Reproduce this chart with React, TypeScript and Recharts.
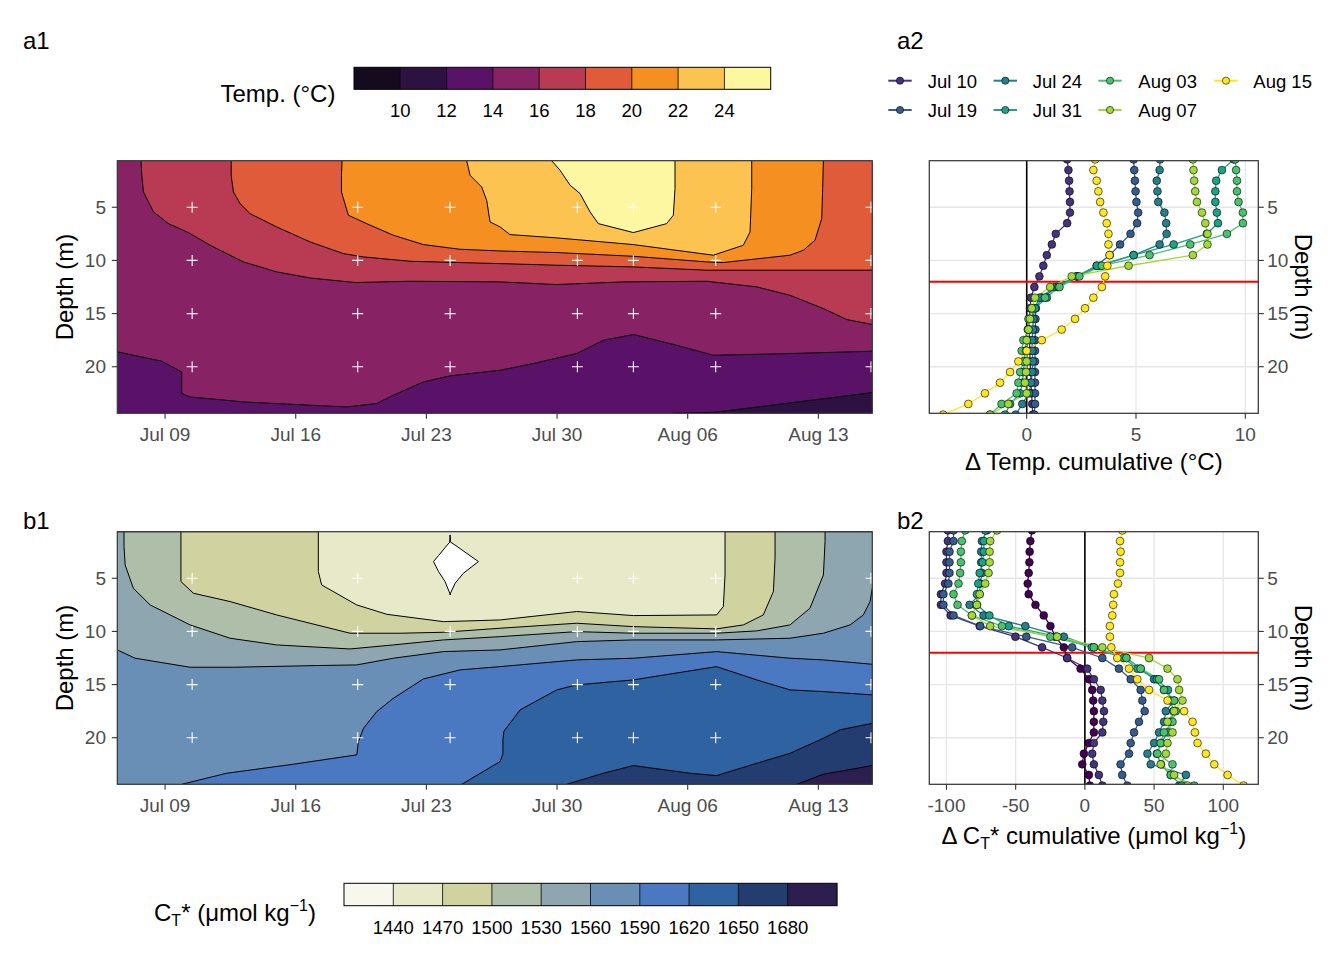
import React from 'react';
import { ComposedChart, Area, Scatter, XAxis, YAxis, CartesianGrid, ReferenceLine } from 'recharts';

const FONT = '"Liberation Sans", Arial, Helvetica, sans-serif';

// ---------- axes / shared ----------
const DEPTH_MIN = 0.62;
const DEPTH_MAX = 24.38;
const DAY_MIN = 6.44;
const DAY_MAX = 46.89;
const DATE_TICKS = [9, 16, 23, 30, 37, 44];
const DATE_LABELS = ['Jul 09', 'Jul 16', 'Jul 23', 'Jul 30', 'Aug 06', 'Aug 13'];
const DEPTH_TICKS = [5, 10, 15, 20];
const SAMPLE_DAYS = [10.45, 19.32, 24.27, 31.09, 34.09, 38.5, 46.82];
const SAMPLE_DEPTHS = [5, 10, 15, 20];
const MIXED_LAYER_DEPTH = 12;

// ---------- legends ----------
const TEMP_BREAKS = ['10', '12', '14', '16', '18', '20', '22', '24'];
const TEMP_FILLS = ['#150a1e', '#2d1142', '#5a1168', '#872265', '#b83a53', '#e05b3a', '#f58f22', '#fdc350', '#fcf7a0'];
const CT_BREAKS = ['1440', '1470', '1500', '1530', '1560', '1590', '1620', '1650', '1680'];
const CT_FILLS = ['#f7f7ee', '#e8e9c9', '#d0d2a0', '#afbea8', '#8ea6b0', '#6a8fb6', '#4a78c1', '#2e62a0', '#243d70', '#2c1f50'];

// ---------- a1 temperature contour boundaries [day, depth] ----------
const T = DEPTH_MIN;
const B = DEPTH_MAX;
const tempC12 = [[36.2, B], [38.5, 24.28], [46.89, 22.43]];
const tempC14 = [[6.44, 18.6], [8.82, 19.48], [9.89, 20.49], [9.89, 22.52], [10.34, 22.84], [13.2, 23.31], [16.77, 23.62], [18.73, 23.78], [20.34, 23.46], [21.23, 22.68], [22.84, 21.43], [24.27, 20.86], [26.95, 20.33], [28.73, 19.7], [31.05, 18.76], [32.48, 17.51], [34.09, 16.97], [36.41, 17.98], [38.37, 18.92], [42.48, 18.76], [46.89, 18.54]];
const tempC16 = [[7.71, T], [7.75, 1.99], [7.84, 3.56], [8.38, 5.44], [9.18, 6.54], [10.25, 7.38], [11.41, 8.57], [13.2, 10.14], [14.98, 11.08], [16.77, 11.65], [19.18, 12.08], [22.13, 11.96], [26.95, 12.02], [29.98, 12.27], [33.55, 12.02], [38.02, 11.96], [40.7, 12.49], [42.48, 13.28], [44.27, 14.53], [45.52, 15.56], [46.89, 16.03]];
const tempC18 = [[12.54, T], [12.54, 1.99], [12.66, 3.56], [13.02, 4.66], [13.55, 5.6], [14.98, 6.85], [16.77, 8.26], [18.55, 9.36], [19.63, 9.67], [22.13, 10.08], [26.95, 10.3], [29.98, 10.45], [34.09, 10.61], [38.02, 10.92], [46.89, 10.92]];
const tempC20 = [[18.48, T], [18.45, 1.99], [18.45, 3.56], [18.82, 5.75], [19.8, 6.54], [21.23, 7.63], [22.84, 8.51], [24.8, 8.95], [26.95, 9.11], [29.98, 9.26], [34.09, 9.61], [38.02, 10.14], [38.91, 10.2], [42.48, 9.51], [43.2, 9.04], [43.82, 8.1], [44.18, 6.07], [44.23, 3.24], [44.27, T]];
const tempC22 = [[25.16, T], [25.34, 1.99], [25.96, 3.09], [26.23, 4.34], [26.41, 6.38], [26.95, 6.85], [27.48, 7.57], [29.98, 7.88], [34.09, 8.51], [38.37, 9.51], [39.98, 8.57], [40.34, 7.32], [40.43, 3.24], [40.43, T]];
const tempC24 = [[29.71, T], [30.16, 1.52], [30.7, 2.93], [31.23, 3.71], [31.77, 5.44], [32.21, 6.54], [34.09, 7.38], [35.87, 6.54], [36.23, 5.75], [36.32, 3.24], [36.32, T]];

// ---------- b1 CT* contour boundaries [day, depth] ----------
const ctC1470 = [[6.44, T], [17.21, T], [17.21, 4.37], [17.39, 5.63], [19.27, 7.51], [20.88, 8.39], [23.91, 9.08], [26.95, 8.92], [31.05, 8.13], [34.09, 8.51], [38.55, 8.45], [38.91, 7.66], [39.0, 4.69], [39.0, 1.5], [39.0, T], [46.89, T]];
const ctC1500 = [[6.44, T], [9.85, T], [9.85, 5.31], [10.52, 6.41], [12.48, 7.19], [14.98, 8.45], [18.91, 10.17], [21.59, 10.17], [23.91, 10.08], [26.95, 9.7], [31.05, 9.23], [34.09, 9.55], [38.55, 9.76], [39.98, 9.39], [41.05, 8.45], [41.59, 6.25], [41.68, 3.12], [41.68, T], [46.89, T]];
const ctC1530 = [[6.44, T], [6.8, T], [6.8, 2.0], [6.86, 3.75], [7.3, 5.94], [8.2, 7.51], [10.34, 9.39], [12.48, 10.64], [14.98, 11.27], [18.91, 11.65], [21.23, 11.27], [23.91, 10.8], [26.95, 10.49], [31.05, 10.02], [34.09, 10.17], [38.55, 10.17], [40.7, 9.95], [42.48, 9.39], [43.55, 7.82], [44.27, 4.69], [44.36, 1.55], [44.36, T], [46.89, T]];
const ctC1560 = [[6.44, 11.74], [7.39, 12.52], [10.34, 13.37], [12.66, 13.37], [17.13, 13.21], [19.27, 13.15], [21.23, 12.52], [23.91, 11.9], [26.95, 11.74], [31.05, 10.96], [34.09, 10.8], [38.55, 10.8], [42.48, 10.64], [44.27, 10.17], [45.7, 9.39], [46.41, 8.45], [46.77, 7.19], [46.89, 5.94]];
const ctC1590 = [[9.89, B], [12.3, 23.34], [15.88, 22.49], [19.27, 21.61], [19.36, 20.36], [19.63, 19.11], [20.34, 17.54], [21.23, 16.29], [22.84, 14.47], [24.8, 13.62], [26.95, 13.31], [31.05, 12.68], [34.09, 12.52], [38.55, 11.9], [42.48, 12.52], [44.27, 12.68], [46.89, 13.09]];
const ctC1620 = [[24.89, B], [26.95, 22.24], [27.1, 21.5], [27.1, 20.2], [27.15, 19.4], [28.02, 17.38], [29.98, 15.5], [31.05, 15.03], [34.09, 14.56], [38.55, 13.31], [40.7, 14.56], [42.48, 15.5], [44.27, 15.66], [46.89, 15.97]];
const ctC1650 = [[30.52, B], [32.48, 23.34], [34.09, 22.62], [37.12, 23.34], [38.55, 23.56], [40.7, 22.4], [42.48, 21.46], [44.27, 20.05], [45.16, 19.26], [46.89, 18.64]];
const ctC1680 = [[42.84, B], [44.27, 23.43], [46.89, 22.62]];
// closed low-CT* patch: [day, upper depth, lower depth]
const ctBlob1410 = [[23.38, 3.43, 3.43], [23.65, 2.87, 4.37], [24.0, 2.12, 5.31], [24.25, 1.6, 6.4], [24.27, 0.92, 6.57], [24.29, 1.6, 6.4], [24.54, 1.88, 5.47], [24.98, 2.43, 4.53], [25.79, 3.43, 3.43]];

// ---------- profiles ----------
const PROFILE_DEPTHS = [0.5, 1.5, 2.5, 3.5, 4.5, 5.5, 6.5, 7.5, 8.5, 9.5, 10.5, 11.5, 12.5, 13.5, 14.5, 15.5, 16.5, 17.5, 18.5, 19.5, 20.5, 21.5, 22.5, 23.5, 24.5];
const PROFILE_DATES = ['Jul 06', 'Jul 10', 'Jul 19', 'Jul 24', 'Jul 31', 'Aug 03', 'Aug 07', 'Aug 15'];
const PROFILE_COLORS = ['#440154', '#46337E', '#365C8D', '#277F8E', '#1FA187', '#4AC16D', '#9FDA3A', '#FDE725'];

const tempJul10 = [1.85, 1.91, 1.94, 1.96, 1.98, 1.98, 1.85, 1.33, 1.15, 0.92, 0.76, 0.58, 0.35, 0.2, 0.15, 0.12, 0.12, 0.12, 0.15, 0.15, 0.18, 0.2, 0.22, 0.25, 0.28];
const tempJul19 = [4.89, 4.92, 4.95, 4.98, 5.02, 5.1, 5.05, 4.75, 4.27, 3.8, 3.2, 2.3, 1.4, 0.7, 0.42, 0.4, 0.4, 0.38, 0.38, 0.38, 0.38, 0.38, 0.38, 0.38, 0.35];
const tempJul24 = [6.1, 6.08, 5.95, 5.98, 6.02, 6.3, 6.38, 6.4, 6.08, 4.89, 3.36, 2.29, 1.3, 0.6, 0.35, 0.3, 0.28, 0.25, 0.25, 0.28, 0.25, 0.2, 0.1, -0.2, -0.5];
const tempJul31 = [9.47, 8.93, 8.67, 8.63, 8.63, 8.7, 8.75, 8.24, 6.72, 4.89, 3.21, 2.29, 1.45, 0.92, 0.38, 0.15, 0.05, 0.0, -0.08, -0.1, -0.15, -0.2, -0.3, -0.76, -0.99];
const tempAug03 = [9.54, 9.58, 9.62, 9.62, 9.69, 9.89, 9.89, 9.16, 7.48, 5.62, 3.44, 2.41, 1.5, 0.84, 0.23, 0.08, 0.08, -0.15, -0.23, -0.15, -0.3, -0.38, -0.46, -1.15, -1.68];
const tempAug07 = [7.6, 7.63, 7.66, 7.71, 7.79, 8.02, 8.17, 8.27, 8.27, 7.6, 4.66, 2.06, 1.07, 0.38, 0.23, 0.15, 0.08, 0.0, -0.03, 0.0, -0.03, -0.08, 0.0, -0.84, -1.68];
const tempAug15 = [3.13, 3.05, 3.2, 3.28, 3.36, 3.51, 3.66, 3.74, 3.74, 3.79, 3.69, 3.59, 3.44, 3.05, 2.67, 2.21, 1.6, 0.69, 0.0, -0.38, -0.76, -1.22, -1.91, -2.67, -3.82];

const ctJul06 = [-38.2, -39.4, -39.9, -40.1, -40.6, -41.3, -40.6, -35.7, -29.7, -24.9, -21.3, -15.2, -12.8, -3.1, 2.9, 5.3, 6, 6.5, 6.5, 6.5, 2.9, -0.7, -1.9, 2.9, 3.6];
const ctJul10 = [-99, -99, -100, -100, -100, -101, -104, -104, -97, -76, -50.2, -30.9, -12.8, 1.7, 6.5, 11.4, 12.6, 13.8, 13.3, 12.6, 6.5, 5.3, 6.5, 10.1, 12.6];
const ctJul19 = [-94.9, -94.9, -97.8, -97.8, -97.8, -98.6, -102.2, -102.2, -94.9, -75.6, -42.3, -9.2, 12.6, 24.6, 33.1, 40.3, 41.5, 43.2, 39.1, 35.5, 33.1, 31.9, 25.8, 27, 30.7];
const ctJul24 = [-70.8, -74.4, -74.9, -74.9, -74.4, -75.6, -76.1, -83.3, -73.2, -43, -15.2, 6.5, 30, 40.3, 50, 57.2, 64.5, 58.5, 57.2, 53.6, 50, 45.2, 47.6, 73, 68.1];
const ctJul31 = [-72, -73, -73, -74, -76, -77, -78, -78, -69, -55, -20, 5, 28, 38, 52, 60, 62, 64, 62, 60, 55, 52, 55, 62, 70];
const ctAug03 = [-86.5, -88.9, -89.6, -89.6, -90.1, -91.3, -94.9, -92, -81.6, -59.9, -24.9, 6.5, 30, 40.3, 53.6, 57.2, 64.5, 65.7, 63.3, 57.2, 54.8, 52.4, 63.3, 62.1, 79];
const ctAug07 = [-63.5, -68.4, -68.8, -68.8, -69.6, -72, -76, -78, -81.6, -68.4, -20, 12.6, 46.4, 59.7, 66.9, 68.1, 70.5, 64.5, 59.7, 63.3, 59.7, 58.5, 54.8, 64.5, 74.2];
const ctAug15 = [27.1, 25.4, 25.8, 25.4, 25.4, 23.9, 21, 20.5, 19.8, 18.1, 18.1, 19.1, 23.4, 31.9, 37.9, 46.4, 59.7, 71.7, 77.8, 79.5, 81.4, 87.4, 93.5, 103.1, 114.7];

const TEMP_X_TICKS = [0, 5, 10];
const CT_X_TICKS = [-100, -50, 0, 50, 100];

// ---------- helpers ----------
const toXY = (pts: number[][]) => pts.map(([x, y]) => ({ x, y }));
const toRange = (pts: number[][]) => pts.map(([x, lo, hi]) => ({ x, y: [lo, hi] }));
const profile = (vals: number[]) => vals.map((v, i) => ({ x: v, y: PROFILE_DEPTHS[i] }));
const samplePoints = SAMPLE_DAYS.flatMap((d) => SAMPLE_DEPTHS.map((z) => ({ x: d, y: z })));

const tickStyle = { fill: '#4d4d4d', fontSize: 19, fontFamily: FONT };
const tickLineStyle = { stroke: '#333333', strokeWidth: 1.1 };

const PlusShape = (p: any) => (
  <path
    d={`M${p.cx - 5.5},${p.cy}H${p.cx + 5.5}M${p.cx},${p.cy - 5.5}V${p.cy + 5.5}`}
    stroke="#ffffff"
    strokeWidth={1.1}
    fill="none"
  />
);
const NoShape = () => <g />;
const makeDot = (color: string) => (p: any) => (
  <circle cx={p.cx} cy={p.cy} r={3.9} fill={color} stroke="#000000" strokeWidth={0.6} />
);

type Layer = { pts: number[][]; fill: string; base: number; stroke?: boolean };

function ContourChart({ top, layers, blob, blobFill }: { top: number; layers: Layer[]; blob?: number[][]; blobFill?: string }) {
  return (
    <div style={{ position: 'absolute', left: 0, top }}>
      <ComposedChart width={900} height={330} margin={{ top: 30.7, right: 27.7, bottom: 6.7, left: 57.3 }}>
        <XAxis
          type="number"
          dataKey="x"
          domain={[DAY_MIN, DAY_MAX]}
          allowDataOverflow
          ticks={DATE_TICKS}
          tickFormatter={(v: number) => DATE_LABELS[DATE_TICKS.indexOf(v)]}
          height={40}
          tickSize={5.5}
          tickMargin={9}
          axisLine={false}
          tick={tickStyle}
          tickLine={tickLineStyle}
        />
        <YAxis
          type="number"
          dataKey="y"
          domain={[DEPTH_MIN, DEPTH_MAX]}
          reversed
          allowDataOverflow
          ticks={DEPTH_TICKS}
          width={60}
          tickSize={5.5}
          tickMargin={5.8}
          axisLine={false}
          tick={tickStyle}
          tickLine={tickLineStyle}
        />
        {layers.map((l, i) => (
          <Area
            key={`layer-${i}`}
            data={toXY(l.pts)}
            dataKey="y"
            type="linear"
            baseValue={l.base}
            fill={l.fill}
            fillOpacity={1}
            stroke={l.stroke === false ? 'none' : '#000000'}
            strokeWidth={1}
            dot={false}
            activeDot={false}
            isAnimationActive={false}
          />
        ))}
        {blob && (
          <Area
            data={toRange(blob)}
            dataKey="y"
            type="linear"
            fill={blobFill}
            fillOpacity={1}
            stroke="#000000"
            strokeWidth={1}
            dot={false}
            activeDot={false}
            isAnimationActive={false}
          />
        )}
        <Scatter data={samplePoints} dataKey="y" shape={PlusShape} isAnimationActive={false} />
      </ComposedChart>
    </div>
  );
}

function ProfileChart({ top, series, domain, ticks }: { top: number; series: { vals: number[]; color: string }[]; domain: number[]; ticks: number[] }) {
  return (
    <div style={{ position: 'absolute', left: 900, top }}>
      <ComposedChart width={444} height={330} margin={{ top: 30.7, right: 25.7, bottom: 6.7, left: 29.3 }}>
        <CartesianGrid stroke="#e6e6e6" strokeWidth={1.3} />
        <XAxis
          type="number"
          dataKey="x"
          domain={domain}
          allowDataOverflow
          ticks={ticks}
          height={40}
          tickSize={5.5}
          tickMargin={9}
          axisLine={false}
          tick={tickStyle}
          tickLine={tickLineStyle}
        />
        <YAxis
          type="number"
          dataKey="y"
          orientation="right"
          domain={[DEPTH_MIN, DEPTH_MAX]}
          reversed
          allowDataOverflow
          ticks={DEPTH_TICKS}
          width={60}
          tickSize={5.5}
          tickMargin={3.5}
          axisLine={false}
          tick={tickStyle}
          tickLine={tickLineStyle}
        />
        <ReferenceLine x={0} stroke="#000000" strokeWidth={1.6} />
        {series.map((s, i) => (
          <Scatter
            key={`line-${i}`}
            data={profile(s.vals)}
            dataKey="y"
            line={{ stroke: s.color, strokeWidth: 1.3 }}
            lineType="joint"
            shape={NoShape}
            isAnimationActive={false}
          />
        ))}
        <ReferenceLine y={MIXED_LAYER_DEPTH} stroke="#ff0000" strokeWidth={2} />
        {series.map((s, i) => (
          <Scatter
            key={`pts-${i}`}
            data={profile(s.vals)}
            dataKey="y"
            shape={makeDot(s.color)}
            isAnimationActive={false}
          />
        ))}
      </ComposedChart>
    </div>
  );
}

const tempLayers: Layer[] = [
  { pts: [[DAY_MIN, B], [DAY_MAX, B]], fill: TEMP_FILLS[2], base: T, stroke: false },
  { pts: tempC12, fill: TEMP_FILLS[1], base: B },
  { pts: tempC14, fill: TEMP_FILLS[3], base: T },
  { pts: tempC16, fill: TEMP_FILLS[4], base: T },
  { pts: tempC18, fill: TEMP_FILLS[5], base: T },
  { pts: tempC20, fill: TEMP_FILLS[6], base: T },
  { pts: tempC22, fill: TEMP_FILLS[7], base: T },
  { pts: tempC24, fill: TEMP_FILLS[8], base: T },
];

const ctLayers: Layer[] = [
  { pts: [[DAY_MIN, B], [DAY_MAX, B]], fill: CT_FILLS[1], base: T, stroke: false },
  { pts: ctC1470, fill: CT_FILLS[2], base: B },
  { pts: ctC1500, fill: CT_FILLS[3], base: B },
  { pts: ctC1530, fill: CT_FILLS[4], base: B },
  { pts: ctC1560, fill: CT_FILLS[5], base: B },
  { pts: ctC1590, fill: CT_FILLS[6], base: B },
  { pts: ctC1620, fill: CT_FILLS[7], base: B },
  { pts: ctC1650, fill: CT_FILLS[8], base: B },
  { pts: ctC1680, fill: CT_FILLS[9], base: B },
];

const tempSeries = [tempJul10, tempJul19, tempJul24, tempJul31, tempAug03, tempAug07, tempAug15].map((vals, i) => ({
  vals,
  color: PROFILE_COLORS[i + 1],
}));
const ctSeries = [ctJul06, ctJul10, ctJul19, ctJul24, ctJul31, ctAug03, ctAug07, ctAug15].map((vals, i) => ({
  vals,
  color: PROFILE_COLORS[i],
}));

function Overlay() {
  const panels = [
    [117.3, 160.7, 755, 252.6],
    [929.3, 160.7, 329, 252.6],
    [117.3, 531.7, 755, 252.6],
    [929.3, 531.7, 329, 252.6],
  ];
  const legendCols = [900, 1005.3, 1110, 1226];
  const legendLabelX = [927.7, 1032.7, 1138.3, 1253.3];
  const legendRows = [80.7, 110];
  const tW = 46.3;
  const cW = 49.3;
  return (
    <svg width={1344} height={960} style={{ position: 'absolute', left: 0, top: 0, pointerEvents: 'none' }} fontFamily={FONT}>
      {panels.map((p, i) => (
        <rect key={i} x={p[0]} y={p[1]} width={p[2]} height={p[3]} fill="none" stroke="#333333" strokeWidth={1.2} />
      ))}
      {/* panel tags */}
      <text x={23} y={49.3} fontSize={24} fill="#000">a1</text>
      <text x={897} y={49.3} fontSize={24} fill="#000">a2</text>
      <text x={23} y={528.5} fontSize={24} fill="#000">b1</text>
      <text x={897} y={528.5} fontSize={24} fill="#000">b2</text>

      {/* axis titles */}
      <text x={73.2} y={287} fontSize={24} textAnchor="middle" transform="rotate(-90 73.2 287)">Depth (m)</text>
      <text x={73.2} y={658} fontSize={24} textAnchor="middle" transform="rotate(-90 73.2 658)">Depth (m)</text>
      <text x={1295.2} y={287} fontSize={24} textAnchor="middle" transform="rotate(90 1295.2 287)">Depth (m)</text>
      <text x={1295.2} y={658} fontSize={24} textAnchor="middle" transform="rotate(90 1295.2 658)">Depth (m)</text>
      <text x={1093.8} y={470.3} fontSize={24} textAnchor="middle">Δ Temp. cumulative (°C)</text>
      <text x={1093.8} y={844} fontSize={24} textAnchor="middle">
        Δ C<tspan fontSize={16} dy={5}>T</tspan>
        <tspan dy={-5}>* cumulative (μmol kg</tspan>
        <tspan fontSize={16} dy={-10}>−1</tspan>
        <tspan dy={10}>)</tspan>
      </text>

      {/* temperature colour bar */}
      <text x={220.5} y={101.7} fontSize={24}>Temp. (°C)</text>
      {TEMP_FILLS.map((c, i) => (
        <rect key={i} x={354 + i * tW} y={67.3} width={tW + 0.3} height={22} fill={c} />
      ))}
      {TEMP_BREAKS.map((lab, i) => (
        <g key={lab}>
          <line x1={354 + (i + 1) * tW} x2={354 + (i + 1) * tW} y1={67.3} y2={89.3} stroke="#000" strokeWidth={0.8} />
          <text x={354 + (i + 1) * tW} y={116.7} fontSize={18.5} textAnchor="middle" fill="#000">{lab}</text>
        </g>
      ))}
      <rect x={354} y={67.3} width={9 * tW} height={22} fill="none" stroke="#000" strokeWidth={1} />

      {/* CT colour bar */}
      <text x={154} y={921} fontSize={24}>
        C<tspan fontSize={16} dy={5}>T</tspan>
        <tspan dy={-5}>* (μmol kg</tspan>
        <tspan fontSize={16} dy={-10}>−1</tspan>
        <tspan dy={10}>)</tspan>
      </text>
      {CT_FILLS.map((c, i) => (
        <rect key={i} x={344 + i * cW} y={883.3} width={cW + 0.3} height={22.4} fill={c} />
      ))}
      {CT_BREAKS.map((lab, i) => (
        <g key={lab}>
          <line x1={344 + (i + 1) * cW} x2={344 + (i + 1) * cW} y1={883.3} y2={905.7} stroke="#000" strokeWidth={0.8} />
          <text x={344 + (i + 1) * cW} y={934.3} fontSize={18.5} textAnchor="middle" fill="#000">{lab}</text>
        </g>
      ))}
      <rect x={344} y={883.3} width={10 * cW} height={22.4} fill="none" stroke="#000" strokeWidth={1} />

      {/* profile legend */}
      {PROFILE_DATES.slice(1).map((lab, i) => {
        const col = Math.floor(i / 2);
        const row = i % 2;
        const cx = legendCols[col];
        const cy = legendRows[row];
        const color = PROFILE_COLORS[i + 1];
        return (
          <g key={lab}>
            <line x1={cx - 11.7} x2={cx + 11.7} y1={cy} y2={cy} stroke={color} strokeWidth={2} />
            <circle cx={cx} cy={cy} r={3.6} fill={color} stroke="#000" strokeWidth={0.6} />
            <text x={legendLabelX[col]} y={cy + 6.8} fontSize={18.5} fill="#000">{lab}</text>
          </g>
        );
      })}
    </svg>
  );
}

export default function App() {
  return (
    <div style={{ position: 'absolute', left: 0, top: 0, width: 1344, height: 960, background: '#ffffff', fontFamily: FONT }}>
      <ContourChart top={130} layers={tempLayers} />
      <ContourChart top={501} layers={ctLayers} blob={ctBlob1410} blobFill="#ffffff" />
      <ProfileChart top={130} series={tempSeries} domain={[-4.456, 10.595]} ticks={TEMP_X_TICKS} />
      <ProfileChart top={501} series={ctSeries} domain={[-112.4, 125.3]} ticks={CT_X_TICKS} />
      <Overlay />
    </div>
  );
}
